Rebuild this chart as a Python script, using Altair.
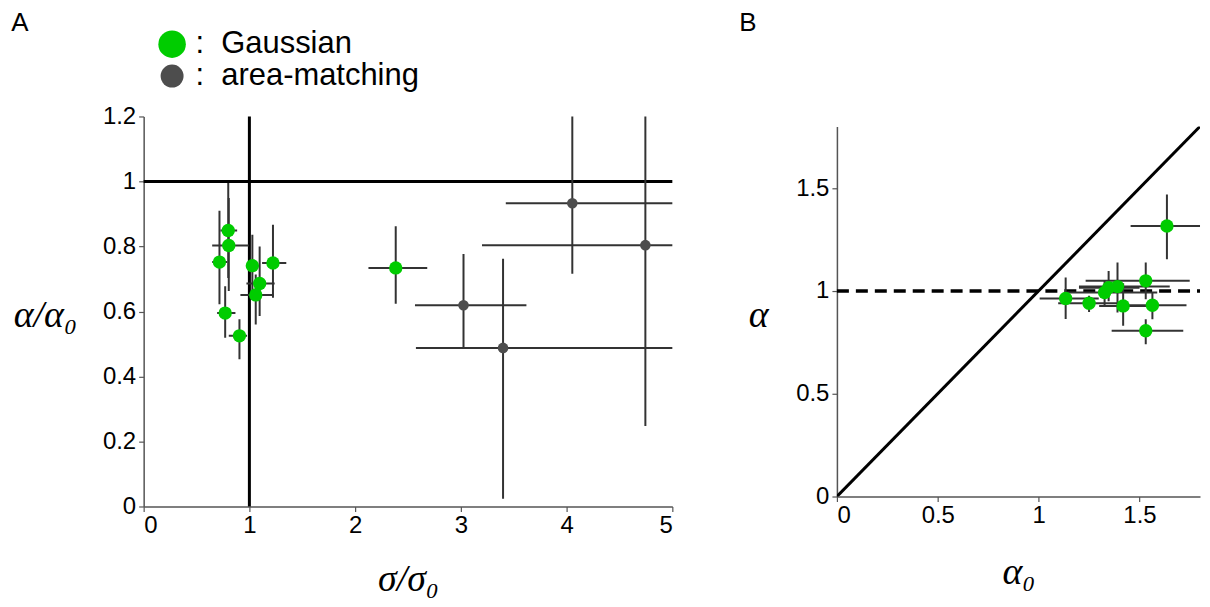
import altair as alt
import pandas as pd

# ---------------- Panel A data ----------------
# Gaussian fits
ga_x = [0.80, 0.805, 0.717, 1.028, 1.223, 1.097, 1.06, 0.771, 0.906, 2.384]
ga_y = [0.849, 0.803, 0.752, 0.741, 0.749, 0.686, 0.651, 0.595, 0.525, 0.734]
ga_xlo = [0.726, 0.648, 0.648, 0.978, 1.12, 0.972, 0.915, 0.695, 0.805, 2.126]
ga_xhi = [0.884, 0.994, 0.79, 1.088, 1.349, 1.239, 1.229, 0.868, 0.978, 2.682]
ga_ylo = [0.703, 0.663, 0.622, 0.642, 0.642, 0.586, 0.560, 0.519, 0.453, 0.624]
ga_yhi = [0.995, 0.949, 0.910, 0.836, 0.867, 0.800, 0.714, 0.678, 0.576, 0.862]

# area-matching fits
am_x = [4.054, 4.745, 3.025, 3.399]
am_y = [0.933, 0.804, 0.619, 0.488]
am_xlo = [3.425, 3.20, 2.566, 2.575]
am_xhi = [5.6, 5.6, 3.62, 5.6]
am_ylo = [0.716, 0.248, 0.489, 0.024]
am_yhi = [1.3, 1.3, 0.777, 0.762]

# ---------------- Panel B data ----------------
b_x = [1.134, 1.25, 1.327, 1.347, 1.391, 1.419, 1.531, 1.564, 1.531, 1.636]
b_y = [0.963, 0.94, 0.992, 1.016, 1.021, 0.927, 1.049, 0.93, 0.806, 1.316]
b_xlo = [1.005, 1.097, 1.137, 1.20, 1.20, 1.30, 1.233, 1.395, 1.362, 1.456]
b_xhi = [1.298, 1.411, 1.588, 1.50, 1.65, 1.55, 1.749, 1.733, 1.717, 1.95]
b_ylo = [0.863, 0.897, 0.93, 0.95, 0.895, 0.830, 0.960, 0.862, 0.741, 1.154]
b_yhi = [1.065, 0.976, 1.05, 1.097, 1.138, 1.037, 1.138, 0.992, 0.862, 1.469]

legend_types = ["Gaussian", "area-matching"]
legend_colors = ["#00cc00", "#4d4d4d"]

GREEN = "#00cc00"
GRAY = "#4d4d4d"
BAR = "#333333"
SANS = "Liberation Sans"
SERIF = "Liberation Serif"

ga = pd.DataFrame(dict(x=ga_x, y=ga_y, xlo=ga_xlo, xhi=ga_xhi, ylo=ga_ylo, yhi=ga_yhi, type="Gaussian"))
am = pd.DataFrame(dict(x=am_x, y=am_y, xlo=am_xlo, xhi=am_xhi, ylo=am_ylo, yhi=am_yhi, type="area-matching"))
bb = pd.DataFrame(dict(x=b_x, y=b_y, xlo=b_xlo, xhi=b_xhi, ylo=b_ylo, yhi=b_yhi, type="Gaussian"))
leg = pd.DataFrame(dict(type=legend_types))


def axis(title, values, **kw):
    return alt.Axis(
        title=title, values=values, format="~g", grid=False,
        labelFont=SANS, labelFontSize=24, labelColor="black",
        domainColor="#555555", domainWidth=1.5, tickColor="#555555",
        tickSize=5, tickWidth=1.2,
        titleFont=SERIF, titleFontStyle="italic", titleFontWeight="normal",
        titleFontSize=38, titleColor="black", **kw)


# ---------------- Panel A ----------------
WA, HA = 530, 391
xA = alt.Scale(domain=[0, 5], nice=False, zero=False)
yA = alt.Scale(domain=[0, 1.2], nice=False)
xAx = axis("σ/σ₀", [0, 1, 2, 3, 4, 5], titleBaseline="middle", titleY=73, labelPadding=2)
yAx = axis("α/α₀", [0, 0.2, 0.4, 0.6, 0.8, 1.0, 1.2], titleAngle=0,
           titleAlign="center", titleBaseline="middle", titleX=-99, titleY=200, labelPadding=3)

refA_h = pd.DataFrame(dict(x=[0], x2=[5], y=[1]))
refA_v = pd.DataFrame(dict(x=[1], y=[0], y2=[1.2]))

color_enc = alt.Color("type:N", scale=alt.Scale(domain=legend_types, range=legend_colors),
                      legend=alt.Legend(
                          title=None, orient="none", legendX=13, legendY=-88,
                          labelExpr="':\u00a0\u00a0' + datum.label", labelFont=SANS,
                          labelFontSize=31, labelLimit=600,
                          labelColor="black", labelOffset=8, rowPadding=0,
                          symbolStrokeWidth=0, symbolOpacity=1, padding=0))

hA = alt.Chart(refA_h).mark_rule(color="black", strokeWidth=3).encode(
    x=alt.X("x:Q", scale=xA, axis=xAx), x2="x2:Q", y=alt.Y("y:Q", scale=yA, axis=yAx))
vA = alt.Chart(refA_v).mark_rule(color="black", strokeWidth=3).encode(
    x=alt.X("x:Q", scale=xA), y=alt.Y("y:Q", scale=yA), y2="y2:Q")


def bars(df, xs, ys):
    h = alt.Chart(df).mark_rule(color=BAR, strokeWidth=2, clip=True).encode(
        x=alt.X("xlo:Q", scale=xs), x2="xhi:Q", y=alt.Y("y:Q", scale=ys))
    v = alt.Chart(df).mark_rule(color=BAR, strokeWidth=2, clip=True).encode(
        x=alt.X("x:Q", scale=xs), y=alt.Y("ylo:Q", scale=ys), y2="yhi:Q")
    return h + v


amPts = alt.Chart(am).mark_circle(size=113, opacity=1).encode(
    x=alt.X("x:Q", scale=xA), y=alt.Y("y:Q", scale=yA), color=color_enc)
gaPts = alt.Chart(ga).mark_circle(size=180, opacity=1).encode(
    x=alt.X("x:Q", scale=xA), y=alt.Y("y:Q", scale=yA), color=color_enc)
legLayer = alt.Chart(leg).transform_filter("false").mark_circle(opacity=1).encode(
    x=alt.X("x:Q", scale=xA), y=alt.Y("y:Q", scale=yA),
    color=color_enc,
    size=alt.Size("type:N", scale=alt.Scale(domain=legend_types, range=[760, 530])))

panelA = alt.layer(hA, vA, bars(am, xA, yA), bars(ga, xA, yA), amPts, gaPts, legLayer).properties(
    width=WA, height=HA,
    title=alt.TitleParams("A", anchor="start", frame="bounds", font=SANS, fontSize=26,
                          fontWeight="normal", color="black", offset=69, dx=-2))

# ---------------- Panel B ----------------
WB, HB = 364, 371
xB = alt.Scale(domain=[0, 1.8], nice=False, zero=False)
yB = alt.Scale(domain=[0, 1.8], nice=False)
xBx = axis("α₀", [0, 0.5, 1, 1.5], titleBaseline="middle", titleY=76, labelPadding=2)
yBx = axis("α", [0, 0.5, 1, 1.5], titleAngle=0, titleAlign="center",
           titleBaseline="middle", titleX=-79, titleY=190, labelPadding=3)

diag = pd.DataFrame(dict(x=[0, 1.8], y=[0, 1.8]))
dash = pd.DataFrame(dict(x=[0], x2=[1.8], y=[1]))

diagL = alt.Chart(diag).mark_line(color="black", strokeWidth=3, clip=True).encode(
    x=alt.X("x:Q", scale=xB, axis=xBx), y=alt.Y("y:Q", scale=yB, axis=yBx))
dashL = alt.Chart(dash).mark_rule(color="black", strokeWidth=3.5, strokeDash=[12, 7]).encode(
    x=alt.X("x:Q", scale=xB), x2="x2:Q", y=alt.Y("y:Q", scale=yB))
bPts = alt.Chart(bb).mark_circle(size=180, opacity=1, color=GREEN).encode(
    x=alt.X("x:Q", scale=xB), y=alt.Y("y:Q", scale=yB))

panelB = alt.layer(diagL, dashL, bars(bb, xB, yB), bPts).properties(
    width=WB, height=HB,
    title=alt.TitleParams("B", anchor="start", frame="bounds", font=SANS, fontSize=26,
                          fontWeight="normal", color="black", offset=91, dx=-9))

chart = alt.hconcat(panelA, panelB, spacing=165, bounds="flush", center=True).configure_view(
    stroke=None).properties(padding={"left": 3, "top": 1, "right": 0, "bottom": 0})

chart.save("out.html", embed_options={"renderer": "svg", "actions": False})
